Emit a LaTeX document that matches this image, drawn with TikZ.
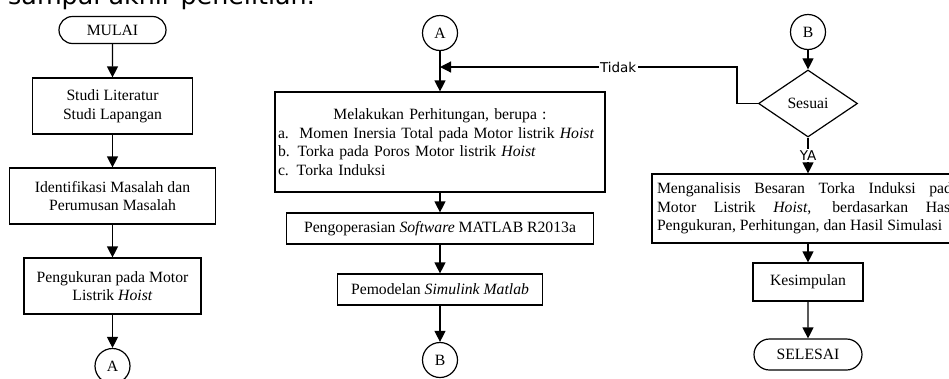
\documentclass[tikz,border=0pt]{standalone}
\usepackage{fontspec}
\setmainfont{Liberation Serif}
\newfontfamily\ketfont{DejaVu Sans}
\usetikzlibrary{positioning,arrows.meta,shapes.misc,shapes.geometric}

\begin{document}
\begin{tikzpicture}[x=1pt,y=-1pt,
  font=\fontsize{15.7}{18.5}\selectfont,
  proses/.style={draw,line width=1.2pt,inner sep=2pt,minimum height=31pt},
  terminal/.style={draw,line width=1.2pt,rounded rectangle,inner sep=2pt,minimum height=27pt},
  konektor/.style={draw,line width=1.2pt,circle,inner sep=0pt,minimum size=35pt},
  keputusan/.style={draw,line width=1.2pt,diamond,aspect=1.5,inner sep=0pt,minimum width=99pt,minimum height=67pt},
  panah/.style={line width=1.2pt,-{Triangle[length=11pt,width=11pt]}},
  ket/.style={font=\ketfont\fontsize{13.5}{15}\selectfont,fill=white,inner sep=1.5pt}]
  \clip (0,0) rectangle (949,378);
  % potongan kalimat di atas gambar
  \node[anchor=base west,inner sep=0pt,font=\ketfont\fontsize{25.4}{30}\selectfont] (judul) at (8,4) {sampai akhir penelitian.};
  % kolom kiri
  \node[terminal,minimum width=111pt] (mulai) at (112.5,30) {MULAI};
  \node[proses,minimum width=160pt,minimum height=56pt,align=center] (studi) at (112.5,106) {Studi Literatur\\Studi Lapangan};
  \node[proses,minimum width=206pt,minimum height=56pt,align=center] (identifikasi) at (112.5,196) {Identifikasi Masalah dan\\Perumusan Masalah};
  \node[proses,minimum width=177pt,minimum height=56pt,align=center] (ukur) at (112.5,286) {Pengukuran pada Motor\\Listrik \textit{Hoist}};
  \node[konektor] (konA1) at (112.5,366) {A};
  % kolom tengah
  \node[proses,text width=324pt,inner xsep=3pt,minimum height=100pt,align=left] (hitung) at (440,142) {\makebox[\hsize]{Melakukan Perhitungan, berupa :}\\a.\ \ Momen Inersia Total pada Motor listrik \textit{Hoist}\\b. Torka pada Poros Motor listrik \textit{Hoist}\\c. Torka Induksi};
  \node[konektor] (konA2) at (440,33) {A};
  \node[proses,minimum width=307pt] (operasi) at (440,228.5) {Pengoperasian \textit{Software} MATLAB R2013a};
  \node[proses,minimum width=205pt] (pemodelan) at (440,289.5) {Pemodelan \textit{Simulink Matlab}};
  \node[konektor] (konB1) at (440,360) {B};
  \coordinate (gabung) at (440,67);
  % kolom kanan
  \node[konektor] (konB2) at (808,32) {B};
  \node[keputusan] (sesuai) at (808,103.5) {Sesuai};
  \node[proses,text width=302pt,inner xsep=5pt,minimum height=69pt,align=justify] (analisis) at (808,208.5) {\hyphenpenalty=10000 Menganalisis Besaran Torka Induksi pada\linebreak Motor Listrik \textit{Hoist}, berdasarkan Hasil\linebreak Pengukuran, Perhitungan, dan Hasil Simulasi};
  \node[proses,minimum width=110pt,minimum height=38pt] (kesimpulan) at (808,282) {Kesimpulan};
  \node[terminal,minimum width=112pt,minimum height=31pt] (selesai) at (808,354.5) {SELESAI};
  % panah
  \draw[panah] (mulai) -- (studi);
  \draw[panah] (studi) -- (identifikasi);
  \draw[panah] (identifikasi) -- (ukur);
  \draw[panah] (ukur) -- (konA1);
  \draw[panah] (konA2) -- (hitung);
  \draw[panah] (hitung) -- (operasi);
  \draw[panah] (operasi) -- (pemodelan);
  \draw[panah] (pemodelan) -- (konB1);
  \draw[panah] (konB2) -- (sesuai);
  \draw[panah] (sesuai) -- node[ket] (ya) {YA} (analisis);
  \draw[panah] (sesuai.west) -- ++(-21,0) |- node[ket,pos=0.7] (tidak) {Tidak} (gabung);
  \draw[panah] (analisis) -- (kesimpulan);
  \draw[panah] (kesimpulan) -- (selesai);
\end{tikzpicture}
\end{document}
